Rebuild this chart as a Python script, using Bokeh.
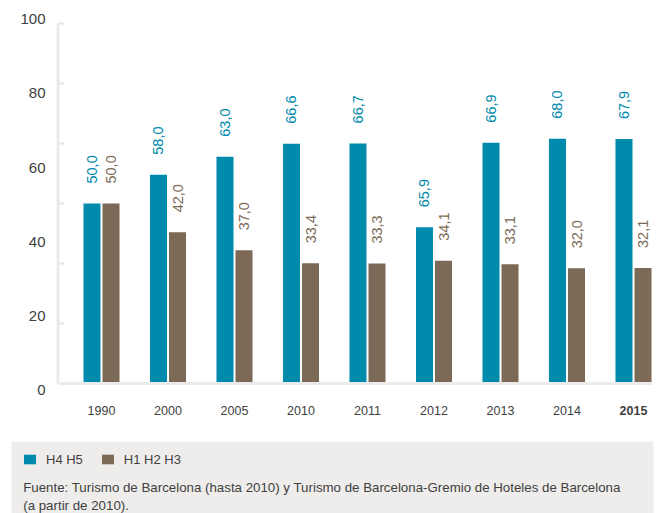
from math import pi
from bokeh.plotting import figure
from bokeh.models import (ColumnDataSource, Range1d, BoxAnnotation, Label, Legend, LegendItem)
from bokeh.core.properties import value, field
from bokeh.transform import dodge
from bokeh.embed import file_html
from bokeh.resources import INLINE

# ---- data ----
years = ["1990", "2000", "2005", "2010", "2011", "2012", "2013", "2014", "2015"]
year_styles = ["normal", "normal", "normal", "normal", "normal", "normal", "normal", "normal", "bold"]
h45 = [50.0, 58.0, 63.0, 66.6, 66.7, 43.4, 66.9, 68.0, 67.9]          # bar heights as drawn
h123 = [50.0, 42.0, 37.0, 33.4, 33.3, 34.1, 33.1, 32.0, 32.1]
h45_labels = ["50,0", "58,0", "63,0", "66,6", "66,7", "65,9", "66,9", "68,0", "67,9"]
h123_labels = ["50,0", "42,0", "37,0", "33,4", "33,3", "34,1", "33,1", "32,0", "32,1"]
y_label_ticks = [0, 20, 40, 60, 80, 100]
y_label_texts = ["0", "20", "40", "60", "80", "100"]
y_tick_marks = [0, 100 / 6, 200 / 6, 300 / 6, 400 / 6, 500 / 6, 100]
series_names = ["H4 H5", "H1 H2 H3"]
source_line1 = ("Fuente: Turismo de Barcelona (hasta 2010) y Turismo de Barcelona-Gremio "
                "de Hoteles de Barcelona")
source_line2 = "(a partir de 2010)."

BLUE = "#008aab"
BROWN = "#7c6a56"
TXT = "#404040"
AXIS_GREY = "#ebebeb"
FOOT_BG = "#eeedeb"
FONT = "Liberation Sans"

# layout constants (axis position / extent in data units)
AXIS_X = -0.654
AXIS_END = 8.286

src = ColumnDataSource(dict(
    i=list(range(len(years))), year=years, style=year_styles,
    h45=h45, h123=h123, l45=h45_labels, l123=h123_labels))
ysrc = ColumnDataSource(dict(v=y_label_ticks, t=y_label_texts))
tsrc = ColumnDataSource(dict(v=y_tick_marks))

p = figure(width=663, height=513, output_backend="svg", toolbar_location=None,
           x_range=Range1d(-1.5188, 8.4511), y_range=Range1d(-36.11, 106.39),
           min_border=0, min_border_left=0, min_border_right=0,
           min_border_top=0, min_border_bottom=0,
           x_axis_location=None, y_axis_location=None, outline_line_color=None,
           background_fill_color="white", border_fill_color="white")
p.grid.visible = False
p.extra_y_ranges = {"lbl": Range1d(-33.13, 105.04)}

# footer background
p.add_layout(BoxAnnotation(left=11, right=653, top=441, bottom=513,
                           left_units="canvas", right_units="canvas",
                           top_units="canvas", bottom_units="canvas",
                           fill_color=FOOT_BG, fill_alpha=1, line_color=None,
                           level="underlay"))

# y axis: line, inward tick marks, labels
p.segment(x0=AXIS_X, y0=0, x1=AXIS_X, y1=100, line_color=AXIS_GREY, line_width=3)
p.ray(x=AXIS_X, y="v", source=tsrc, length=6, length_units="screen", angle=0,
      line_color="#e6e6e6", line_width=2)
p.text(x=AXIS_X, y="v", text="t", source=ysrc, y_range_name="lbl", x_offset=-12.5,
       text_align="right", text_baseline="middle",
       text_font=value(FONT), text_font_size="15px", text_color=TXT)

r1 = p.vbar(x=dodge("i", -0.143, range=p.x_range), top="h45", bottom=0, width=0.256,
            source=src, fill_color=BLUE, line_color=None)
r2 = p.vbar(x=dodge("i", 0.143, range=p.x_range), top="h123", bottom=0, width=0.256,
            source=src, fill_color=BROWN, line_color=None)

# baseline
p.segment(x0=AXIS_X, y0=0, x1=AXIS_END, y1=0, line_color=AXIS_GREY, line_width=3)

# value labels
p.text(x=dodge("i", -0.143, range=p.x_range), y="h45", text="l45", source=src,
       angle=pi / 2, text_align="left", text_baseline="middle", y_offset=-20,
       text_font=value(FONT), text_font_size="14.5px", text_color=BLUE)
p.text(x=dodge("i", 0.143, range=p.x_range), y="h123", text="l123", source=src,
       angle=pi / 2, text_align="left", text_baseline="middle", y_offset=-20,
       text_font=value(FONT), text_font_size="14.5px", text_color=BROWN)

# category labels
p.text(x="i", y=0, text="year", source=src, text_font_style=field("style"),
       y_offset=27, text_align="center", text_baseline="middle",
       text_font=value(FONT), text_font_size="12.5px", text_color=TXT)

legend = Legend(items=[LegendItem(label=series_names[0], renderers=[r1]),
                       LegendItem(label=series_names[1], renderers=[r2])],
                location=(22, 46.5), orientation="horizontal",
                glyph_width=15, glyph_height=12, label_standoff=9, spacing=17,
                padding=0, margin=0, background_fill_alpha=0, border_line_color=None,
                label_text_font_size="13px", label_text_color=TXT, label_text_font=FONT,
                label_height=15)
p.add_layout(legend)

p.add_layout(Label(x=22.7, y=487, x_units="canvas", y_units="canvas", text=source_line1,
                   text_font_size="13.3px", text_color=TXT, text_font=FONT,
                   text_baseline="alphabetic"))
p.add_layout(Label(x=22.7, y=504.5, x_units="canvas", y_units="canvas", text=source_line2,
                   text_font_size="13.3px", text_color=TXT, text_font=FONT,
                   text_baseline="alphabetic"))

open("out.html", "w").write(file_html(p, INLINE))
